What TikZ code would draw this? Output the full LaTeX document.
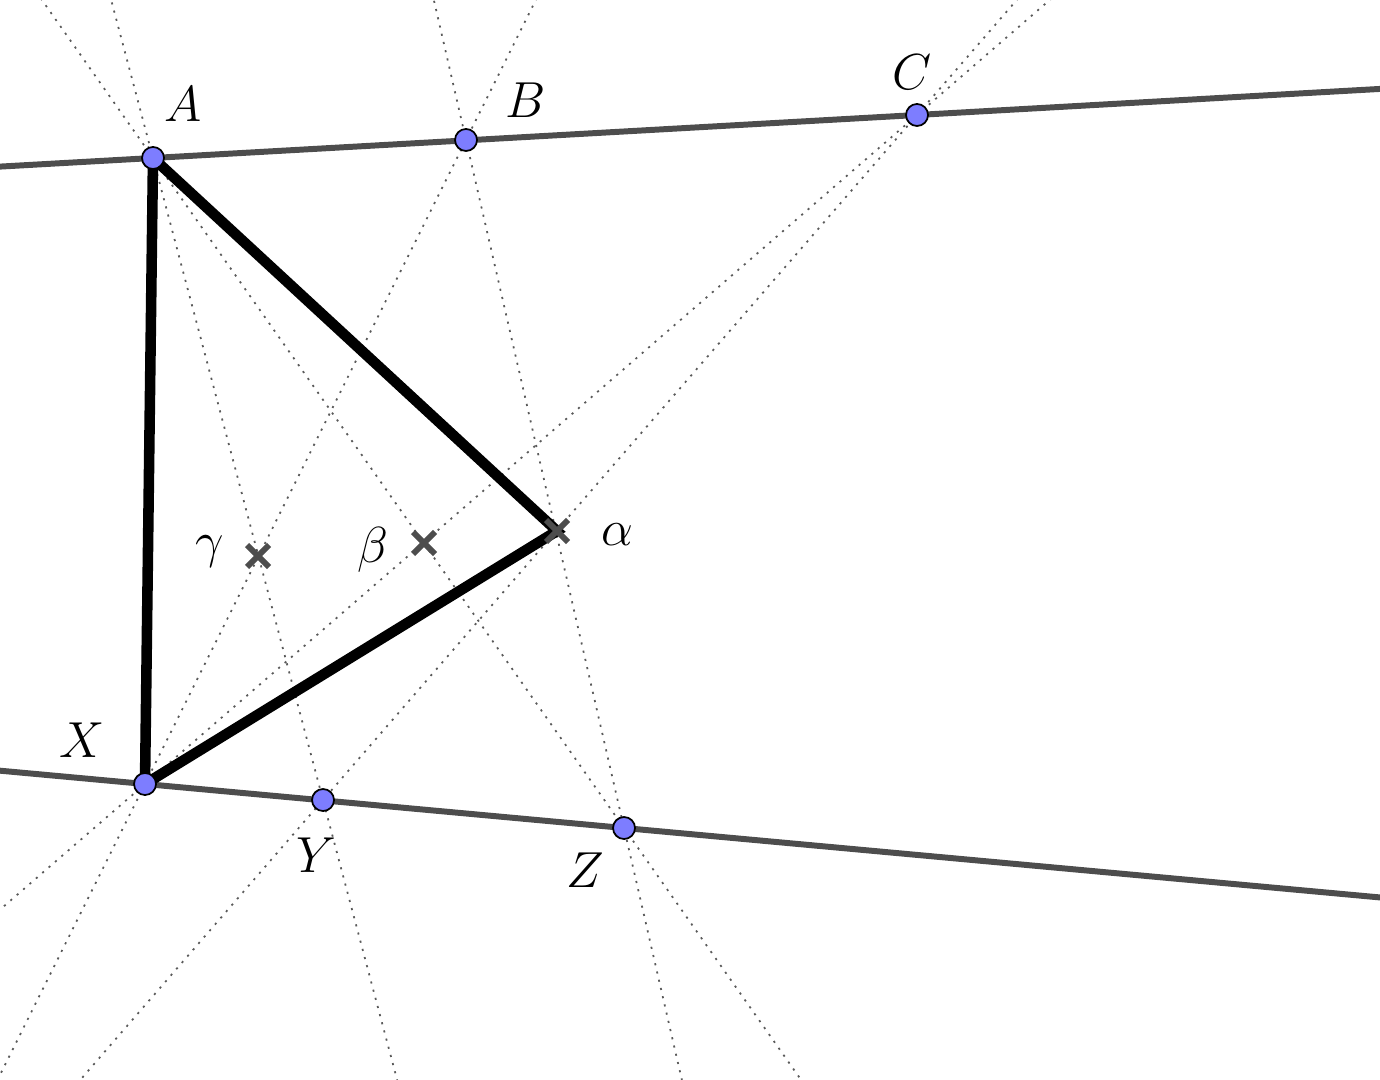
\documentclass[tikz,border=0pt]{standalone}
\usetikzlibrary{calc}
\definecolor{ptblue}{RGB}{125,125,255}
\definecolor{lngray}{RGB}{77,77,77}
\definecolor{dotgray}{RGB}{90,90,90}
\begin{document}
\begin{tikzpicture}[x=0.01cm, y=-0.01cm, font=\fontsize{15}{18}\selectfont]
		\useasboundingbox (0,0) rectangle (1380,1080);
		\clip (0,0) rectangle (1380,1080);
		% Points on the two lines and the three crossings
		\coordinate (A) at (153,158);
		\coordinate (B) at (466,140);
		\coordinate (C) at (917,115);
		\coordinate (X) at (145,784);
		\coordinate (Y) at (323,800);
		\coordinate (Z) at (624,828);
		\coordinate (al) at (557,531);
		\coordinate (be) at (424,543);
		\coordinate (ga) at (258,556);
		% Dotted joins between the two rows
		\foreach \p/\q in {A/Y, A/Z, B/X, B/Z, C/X, C/Y} {
			\draw[dotgray, line width=0.5pt, dash pattern=on 0.6pt off 1.8pt]
				($(\p)!-3!(\q)$) -- ($(\p)!4!(\q)$);
		}
		% The two carrier lines
		\draw[lngray, line width=1.7pt] ($(A)!-3!(C)$) -- ($(A)!4!(C)$);
		\draw[lngray, line width=1.7pt] ($(X)!-3!(Z)$) -- ($(X)!4!(Z)$);
		% Thick triangle
		\draw[black, line width=3pt, line join=miter] (A) -- (X) -- (al) -- cycle;
		% Crossings marked by crosses
		\foreach \c in {al, be, ga} {
			\draw[lngray, line width=1.7pt]
				($(\c)+(-11,-11)$) -- ($(\c)+(11,11)$)
				($(\c)+(-11,11)$) -- ($(\c)+(11,-11)$);
		}
		% Blue points
		\foreach \p in {A, B, C, X, Y, Z} {
			\fill[ptblue, draw=black, line width=0.5pt] (\p) circle (11);
		}
		% Labels
		\node at (183,104) {$A$};
		\node at (526,100) {$B$};
		\node at (912,72) {$C$};
		\node at (82,740) {$X$};
		\node at (316,855) {$Y$};
		\node at (585,870) {$Z$};
		\node at (617,535) {$\alpha$};
		\node at (373,550) {$\beta$};
		\node at (210,552) {$\gamma$};
		\end{tikzpicture}
\end{document}
